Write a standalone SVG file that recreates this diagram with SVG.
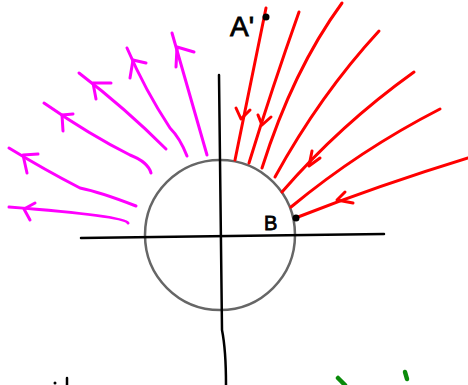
<svg xmlns="http://www.w3.org/2000/svg" width="468" height="385" viewBox="0 0 468 385">
<style>
.ax{fill:none;stroke:#000;stroke-width:2.5;stroke-linecap:round;stroke-linejoin:round}
.r{fill:none;stroke:#ff0000;stroke-width:3;stroke-linecap:round;stroke-linejoin:round}
.m{fill:none;stroke:#ff00ff;stroke-width:3;stroke-linecap:round;stroke-linejoin:round}
.g{fill:none;stroke:#0a8a0a;stroke-width:4.5;stroke-linecap:round}
.lbl{font-family:"Liberation Sans",Arial,sans-serif;fill:#000;stroke:#000;stroke-width:0.8}
</style>
<rect width="468" height="385" fill="#fff"/>
<g id="circle"><circle cx="220" cy="235" r="75" fill="none" stroke="#666" stroke-width="2.5"/></g>
<g id="axes">
<path class="ax" d="M81,238 L230,236 L384,234"/>
<path class="ax" d="M219,75 Q221,240 222,330 Q226,350 226,385"/>
</g>
<g id="connectors">
<path class="r" d="M266,8 Q249,90 235,160"/>
<path class="r" d="M236,108 L241,119 L250,110"/>
<path class="r" d="M299,12 Q272,88 249,163"/>
<path class="r" d="M342,3 Q293,70 262,168"/>
<path class="r" d="M258,115 L262,125 L271,117"/>
<path class="r" d="M379,31 Q320,95 275,177"/>
<path class="r" d="M414,72 Q340,125 282,192"/>
<path class="r" d="M312,151 L309,166 L320,158"/>
<path class="r" d="M440,109 Q360,150 291,207"/>
<path class="r" d="M468,158 Q380,185 298,217"/>
<path class="r" d="M345,192 L337,200 L353,203"/>
<path class="m" d="M207,155 L172,33"/>
<path class="m" d="M194,52 L177,47 L176,67"/>
<path class="m" d="M187,156 Q180,138 170,128 Q145,90 127,48"/>
<path class="m" d="M146,63 L133,60 L130,78"/>
<path class="m" d="M166,149 Q125,108 79,73"/>
<path class="m" d="M111,83 L93,83 L96,99"/>
<path class="m" d="M151,173 Q148,162 130,155 Q90,135 44,103"/>
<path class="m" d="M73,114 L62,115 L63,131"/>
<path class="m" d="M136,206 Q100,192 80,188 Q45,170 9,148"/>
<path class="m" d="M38,154 L23,155 L27,173"/>
<path class="m" d="M128,223 Q125,216 9,207"/>
<path class="m" d="M35,203 L24,209 L30,220"/>
</g>
<g id="A"><circle cx="266" cy="17" r="3.5" fill="#000"/><text class="lbl" x="230" y="36" font-size="28">A'</text></g>
<g id="B"><circle cx="296" cy="218" r="3.5" fill="#000"/><text class="lbl" x="264" y="230" font-size="20">B</text></g>
<g id="marks">
<circle cx="55" cy="383" r="1.5" fill="#000"/>
<path class="ax" d="M67,378 L67,385" stroke-width="1.5"/>
<path class="g" d="M338,378 L345,385"/>
<path class="g" d="M405,372 L407,379"/>
</g>
</svg>
